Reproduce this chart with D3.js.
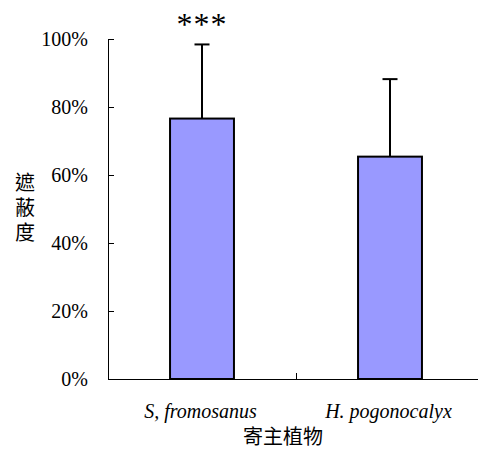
<!DOCTYPE html>
<html><head><meta charset="utf-8">
<script src="https://cdn.jsdelivr.net/npm/d3@7"></script>
<style>
html,body{margin:0;padding:0;background:#fff;}
svg{display:block;}
</style></head>
<body>
<svg id="chart" width="478" height="450"></svg>
<script>
const categories = ["S, fromosanus", "H. pogonocalyx"];
const means = [0.766, 0.654];
const errors = [0.218, 0.228];
const significance = ["***", ""];
const yTicks = [0, 0.2, 0.4, 0.6, 0.8, 1.0];
const yTickLabels = ["0%", "20%", "40%", "60%", "80%", "100%"];
const yTitle = "遮蔽度";
const xTitle = "寄主植物";

const svg = d3.select("#chart");
const x0 = 108, x1 = 484, yTop = 39, yBot = 379;
const x = d3.scaleBand().domain(categories).range([x0, x1]).padding(0);
const y = d3.scaleLinear().domain([0, 1]).range([yBot, yTop]);
const barW = x.bandwidth() * 0.34;
const serif = "'Liberation Serif','Times New Roman',serif";
const cjk = "'Noto Sans CJK TC','Noto Sans CJK SC',sans-serif";

// bars
svg.selectAll("rect.bar").data(categories).enter().append("rect")
  .attr("x", d => x(d) + x.bandwidth()/2 - barW/2)
  .attr("y", (d,i) => y(means[i]))
  .attr("width", barW)
  .attr("height", (d,i) => y(0) - y(means[i]))
  .attr("fill", "#9999FF").attr("stroke", "#000").attr("stroke-width", 2);

// error bars
const eg = svg.selectAll("g.err").data(categories).enter().append("g");
eg.append("line")
  .attr("x1", d => x(d) + x.bandwidth()/2).attr("x2", d => x(d) + x.bandwidth()/2)
  .attr("y1", (d,i) => y(means[i])).attr("y2", (d,i) => y(means[i] + errors[i]))
  .attr("stroke", "#000").attr("stroke-width", 2);
eg.append("line")
  .attr("x1", d => x(d) + x.bandwidth()/2 - 7.5).attr("x2", d => x(d) + x.bandwidth()/2 + 7.5)
  .attr("y1", (d,i) => y(means[i] + errors[i])).attr("y2", (d,i) => y(means[i] + errors[i]))
  .attr("stroke", "#000").attr("stroke-width", 2);

// significance
svg.selectAll("text.sig").data(categories).enter().append("text")
  .attr("x", d => x(d) + x.bandwidth()/2)
  .attr("y", 35)
  .attr("text-anchor", "middle")
  .attr("font-family", serif).attr("font-size", 32).attr("letter-spacing", 1)
  .text((d,i) => significance[i]);

// y axis
const yAxis = d3.axisRight(y).tickValues(yTicks).tickSize(6).tickFormat("");
const ya = svg.append("g").attr("transform", `translate(${x0},0)`).call(yAxis);
ya.select(".domain").attr("d", `M6,${yTop}.5H0.5V${yBot}.5`).attr("stroke", "#000");
ya.selectAll(".tick line").attr("stroke", "#000");
svg.selectAll("text.ytl").data(yTicks).enter().append("text")
  .attr("x", 88).attr("y", d => y(d) + 7)
  .attr("text-anchor", "end")
  .attr("font-family", serif).attr("font-size", 20).attr("fill", "#000")
  .text((d,i) => yTickLabels[i]);

// x axis
const xAxis = d3.axisTop(d3.scaleLinear().domain([0,2]).range([x0, x1])).tickValues([1]).tickSize(6).tickFormat("");
const xa = svg.append("g").attr("transform", `translate(0,${yBot})`).call(xAxis);
xa.select(".domain").attr("d", `M${x0},0.5H${x1}`).attr("stroke", "#000");
xa.selectAll(".tick line").attr("stroke", "#000");

svg.selectAll("text.xtl").data(categories).enter().append("text")
  .attr("x", d => x(d) + x.bandwidth()/2 - 1.5)
  .attr("y", 418)
  .attr("text-anchor", "middle")
  .attr("font-family", serif).attr("font-style", "italic").attr("font-size", 20).attr("fill", "#000")
  .text(d => d);

// axis titles
svg.append("text").attr("x", 283).attr("y", 444).attr("text-anchor", "middle")
  .attr("font-family", cjk).attr("font-size", 20).attr("fill", "#000").text(xTitle);
svg.append("text").attr("x", 25).attr("y", 172)
  .style("writing-mode", "vertical-rl")
  .attr("letter-spacing", 5)
  .attr("font-family", cjk).attr("font-size", 20).attr("fill", "#000").text(yTitle);
</script>
</body></html>
